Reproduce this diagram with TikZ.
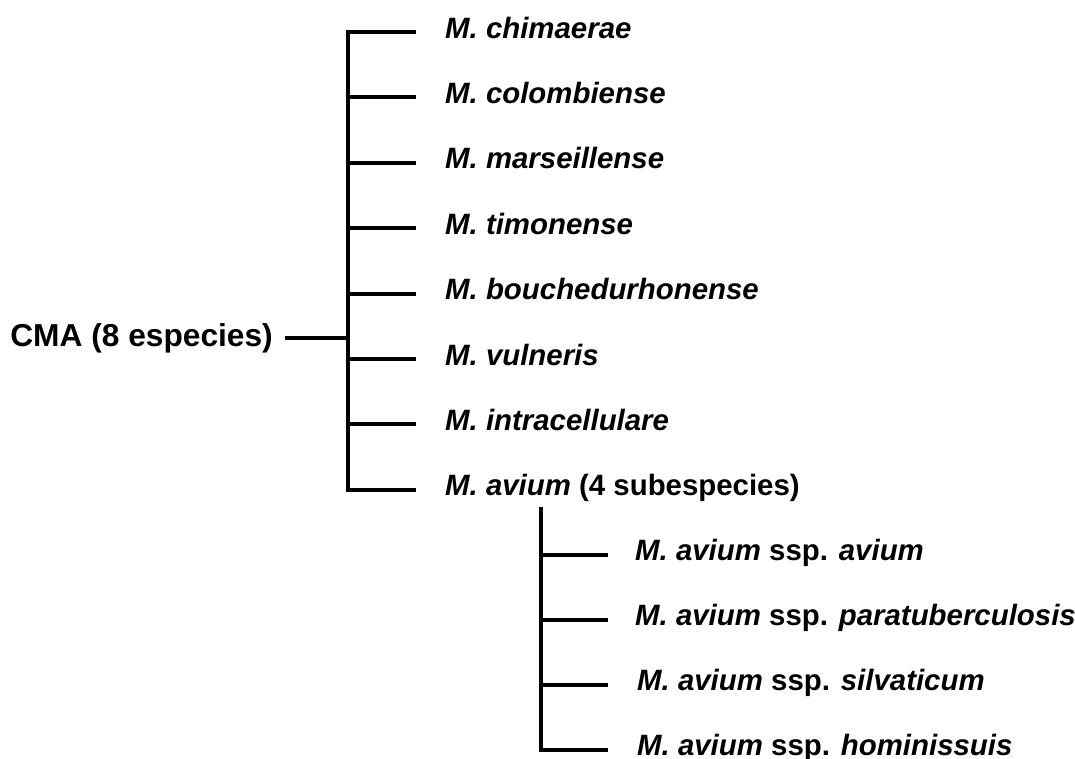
\documentclass[tikz,border=0pt]{standalone}
\usepackage{fontspec}
\setmainfont{Liberation Sans}
\usetikzlibrary{positioning}

\tikzset{
  branch/.style={line width=4pt},
  taxon/.style={font=\fontsize{29.4}{34}\selectfont\bfseries, inner sep=0pt, anchor=base west},
  rootlbl/.style={font=\fontsize{31.7}{36}\selectfont\bfseries, inner sep=0pt, anchor=base east}
}

\begin{document}
\begin{tikzpicture}[x=1pt,y=-1pt]
  \useasboundingbox (0,0) rectangle (1075,758);
  % complex root and its stem
  \node[rootlbl] (cma) at (273,346) {CMA (8 especies)};
  \coordinate (stem) at (285,338);
  \coordinate (fork) at (348,338);
  \draw[branch] (stem) -- (fork);
  % species
  \coordinate (spinetop) at (348,30);
  \coordinate (spinebot) at (348,492);
  \draw[branch] (spinetop) -- (spinebot);
  \foreach \name/\txt [count=\i from 0] in {
      chim/{\textit{M. chimaerae}},
      colo/{\textit{M. colombiense}},
      mars/{\textit{M. marseillense}},
      timo/{\textit{M. timonense}},
      bouc/{\textit{M. bouchedurhonense}},
      vuln/{\textit{M. vulneris}},
      intra/{\textit{M. intracellulare}},
      avium/{\textit{M. avium} (4 subespecies)}} {
    \coordinate (\name-j) at (348,32+65.4*\i);
    \coordinate (\name-e) at (416,32+65.4*\i);
    \draw[branch] (\name-j) -- (\name-e);
    \node[taxon] (\name) at (445,38+65.4*\i) {\txt};
  }
  % subspecies of M. avium
  \coordinate (subtop) at (541,507);
  \coordinate (subbot) at (541,752);
  \draw[branch] (subtop) -- (subbot);
  \foreach \name/\txt/\lx [count=\i from 0] in {
      mav/avium/635,
      map/paratuberculosis/635,
      mas/silvaticum/637,
      mah/hominissuis/637} {
    \coordinate (\name-j) at (541,555+65*\i);
    \coordinate (\name-e) at (608,555+65*\i);
    \draw[branch] (\name-j) -- (\name-e);
    \node[taxon] (\name) at (\lx,560+65*\i) {\textit{M. avium} ssp. \textit{\txt}};
  }
\end{tikzpicture}
\end{document}
